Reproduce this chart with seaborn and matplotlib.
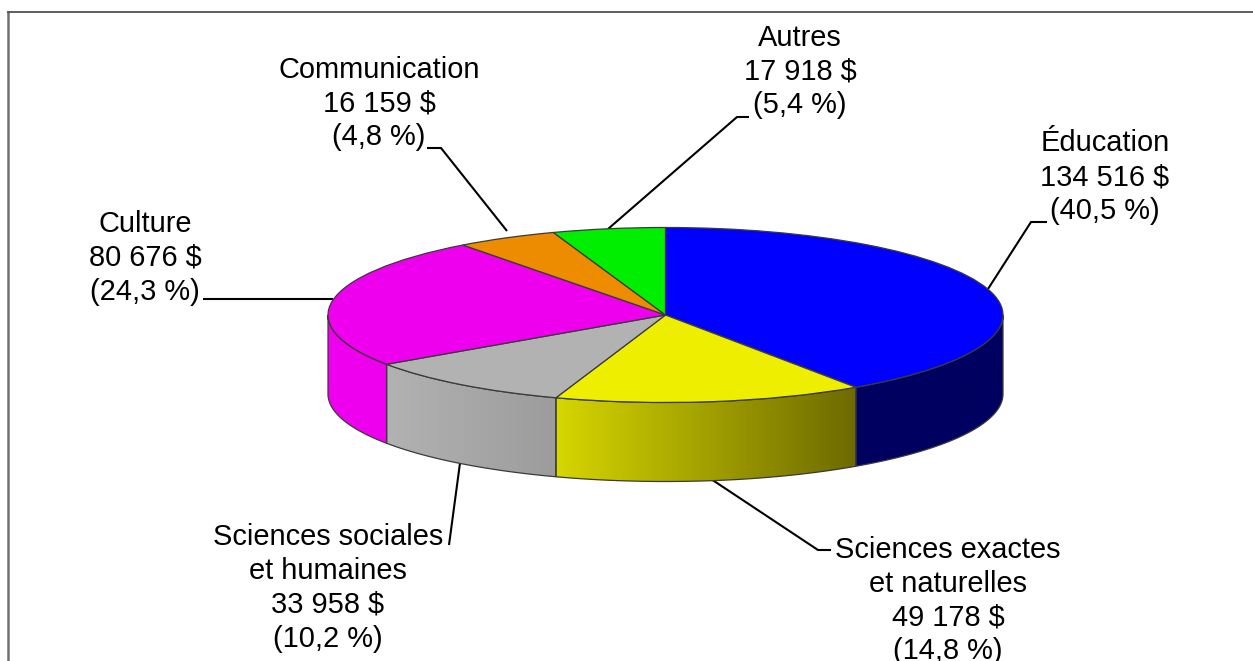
import numpy as np
import matplotlib
matplotlib.use("Agg")
import matplotlib.pyplot as plt
import seaborn as sns
from matplotlib.colors import LinearSegmentedColormap
from matplotlib.patches import Polygon
from matplotlib.transforms import Affine2D

# data, clockwise from 12 o'clock
categories = ["Éducation", "Sciences exactes\net naturelles", "Sciences sociales\net humaines",
              "Culture", "Communication", "Autres"]
amounts = [134516, 49178, 33958, 80676, 16159, 17918]
percents = ["40,5", "14,8", "10,2", "24,3", "4,8", "5,4"]

# colours
top_colors = ["#0000FF", "#EEEE00", "#B2B2B2", "#EE00EE", "#EE8C00", "#00EE00"]
side_left = ["#000060", "#D6D600", "#B2B2B2", "#EE00EE", "#EE8C00", "#00EE00"]
side_right = ["#000060", "#6E6A00", "#9C9C9C", "#EE00EE", "#EE8C00", "#00EE00"]

W, H = 1253, 661
TOP, LEFT = 12, 8
cx, cy = 665.5, H - 315
rx, ry, depth = 337.5, 87.5, 79
EDGE = "#3a3a3a"

sns.set_theme(style="white")
plt.rcParams["font.family"] = ["Liberation Sans", "DejaVu Sans"]

fig = plt.figure(figsize=(W / 100, H / 100), dpi=100)
ax = fig.add_axes([LEFT / W, 0, 1 - LEFT / W, (H - TOP) / H])

# top face: real pie, squashed into an ellipse
wedges, _ = ax.pie(amounts, colors=sns.color_palette(top_colors), startangle=90, counterclock=False,
                   radius=rx, center=(cx, cy), frame=True,
                   wedgeprops=dict(edgecolor=EDGE, linewidth=0.9, zorder=4))
squash = Affine2D().translate(-cx, -cy).scale(1, ry / rx).translate(cx, cy)
for w in wedges:
    w.set_transform(squash + ax.transData)

ax.set_aspect("auto")

# side wall, only the front half (-180..0 deg) shows
for i, w in enumerate(wedges):
    t1, t2 = max(w.theta1, -180), min(w.theta2, 0)
    if t2 <= t1:
        continue
    t = np.radians(np.linspace(t1, t2, 120))
    x = cx + rx * np.cos(t)
    y = cy + ry * np.sin(t)
    pts = np.r_[np.c_[x, y], np.c_[x, y - depth][::-1]]
    poly = Polygon(pts, closed=True, facecolor="none", edgecolor=EDGE, linewidth=0.9, zorder=3)
    ax.add_patch(poly)
    cmap = LinearSegmentedColormap.from_list("side", [side_left[i], side_right[i]])
    im = ax.imshow(np.linspace(0, 1, 256)[None, :], cmap=cmap, aspect="auto", zorder=2,
                   extent=(x.min(), x.max(), (y - depth).min(), y.max()))
    im.set_clip_path(poly)

ax.set_xlim(LEFT, W)
ax.set_ylim(0, H - TOP)
ax.set_xticks([])
ax.set_yticks([])
ax.set_frame_on(True)
for side in ["right", "bottom"]:
    ax.spines[side].set_visible(False)
ax.spines["left"].set_color("#707070")
ax.spines["left"].set_linewidth(1.8)
ax.spines["top"].set_color("#505050")
ax.spines["top"].set_linewidth(1.3)

# labels: centre position in picture pixels
label_xy = [(1105, 177), (948, 600.5), (328, 588), (145, 258), (379, 103.5), (800, 71.5)]
leaders = [
    [(988, 289), (1031, 222), (1047, 222)],
    [(711, 479), (818, 550), (831, 550)],
    [(460, 463), (449, 545)],
    [(333, 299), (203, 299)],
    [(507, 231), (441, 148), (427, 148)],
    [(608, 229), (737, 117), (749, 117)],
]
for name, amount, pct, (lx, ly), lead in zip(categories, amounts, percents, label_xy, leaders):
    money = f"{amount:,}".replace(",", " ")
    ax.text(lx, H - ly, f"{name}\n{money} $\n({pct} %)", ha="center", va="center",
            fontsize=20.9, color="black", linespacing=1.26, zorder=6)
    px, py = zip(*lead)
    ax.plot(px, [H - v for v in py], color="black", lw=1.5, zorder=1, solid_capstyle="butt")

fig.savefig("out.png", dpi=100, facecolor="white")
